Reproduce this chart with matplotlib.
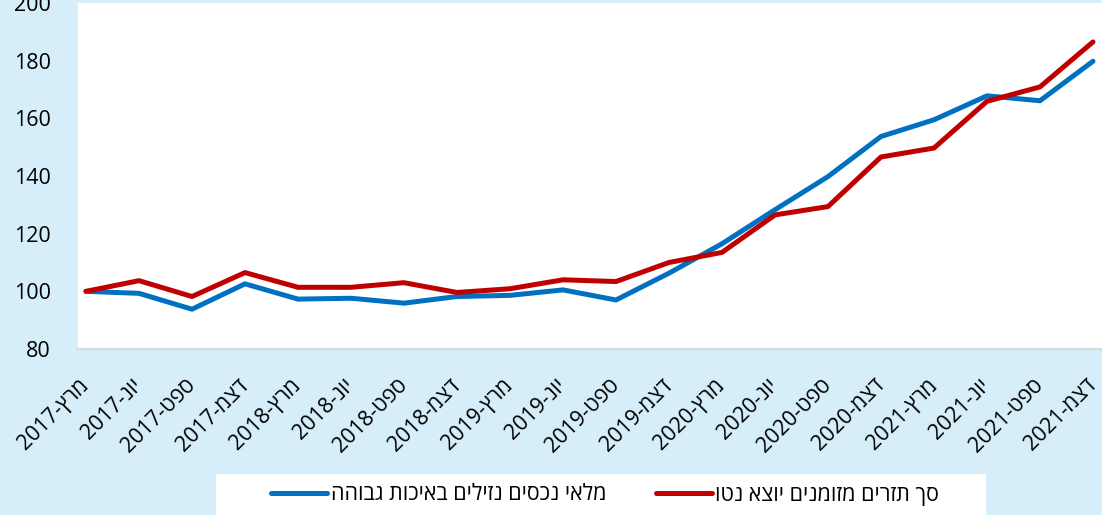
import numpy as np
import matplotlib
matplotlib.use("Agg")
import matplotlib.pyplot as plt
from matplotlib.patches import Rectangle

plt.rcParams['font.family'] = ['Open Sans', 'DejaVu Sans']

# quarters, Hebrew month abbreviations (logical order)
months = ["מרץ", "יונ", "ספט", "דצמ"]
years = [2017, 2018, 2019, 2020, 2021]

hqla = [100, 99.3, 93.8, 102.6, 97.3, 97.6, 95.9, 98.2, 98.6, 100.5,
        97.0, 106.3, 116.5, 128.3, 139.8, 153.7, 159.5, 167.8, 166.1, 179.8]
outflow = [100, 103.7, 98.2, 106.5, 101.4, 101.4, 103.0, 99.6, 100.9, 104.0,
           103.4, 110.0, 113.5, 126.5, 129.4, 146.6, 149.7, 165.9, 170.9, 186.5]

name_hqla = "מלאי נכסים נזילים באיכות גבוהה"
name_outflow = "סך תזרים מזומנים יוצא נטו"

yticks = [80, 100, 120, 140, 160, 180, 200]


def vis(s):
    # matplotlib has no bidi, so flip hebrew to visual order
    return s[::-1]


labels = [f"{y}-{vis(m)}" for y in years for m in months]
x = np.arange(len(labels))

bg = '#d5eef9'
fs = 15.5
fig = plt.figure(figsize=(11.02, 5.15), dpi=100, facecolor=bg)
ax = fig.add_axes([78/1102, 166/515, 1024/1102, 346/515])
ax.set_facecolor('white')

ax.plot(x, hqla, color='#0070c0', lw=3.6, solid_capstyle='round',
        solid_joinstyle='round', label=vis(name_hqla))
ax.plot(x, outflow, color='#c00000', lw=3.6, solid_capstyle='round',
        solid_joinstyle='round', label=vis(name_outflow))

ax.set_xlim(-0.151, 19.17)
ax.set_ylim(80, 200)
ax.set_yticks(yticks)
ax.set_xticks(x)
ax.set_xticklabels(labels, rotation=45, ha='right', va='center',
                   rotation_mode='anchor')
ax.tick_params(axis='x', length=0, pad=24, labelsize=fs)
ax.tick_params(axis='y', length=0, pad=19.5, labelsize=fs)
for s in ['top', 'right', 'left']:
    ax.spines[s].set_visible(False)
ax.spines['bottom'].set_color('#d9d9d9')
ax.spines['bottom'].set_linewidth(1.5)
ax.spines['bottom'].set_zorder(0)

# white legend box at the bottom
fig.patches.append(Rectangle((216/1102, 0), 770/1102, 41/515,
                             transform=fig.transFigure, facecolor='white',
                             edgecolor='none', zorder=0))
leg = fig.legend(loc='center', ncol=2, bbox_to_anchor=(605/1102, 20/515),
                 frameon=False, fontsize=fs, handlelength=2.6,
                 handletextpad=0.15, columnspacing=2.3, borderpad=0)
for ln in leg.get_lines():
    ln.set_solid_capstyle('round')

fig.savefig('out.png', dpi=100, facecolor=bg)
